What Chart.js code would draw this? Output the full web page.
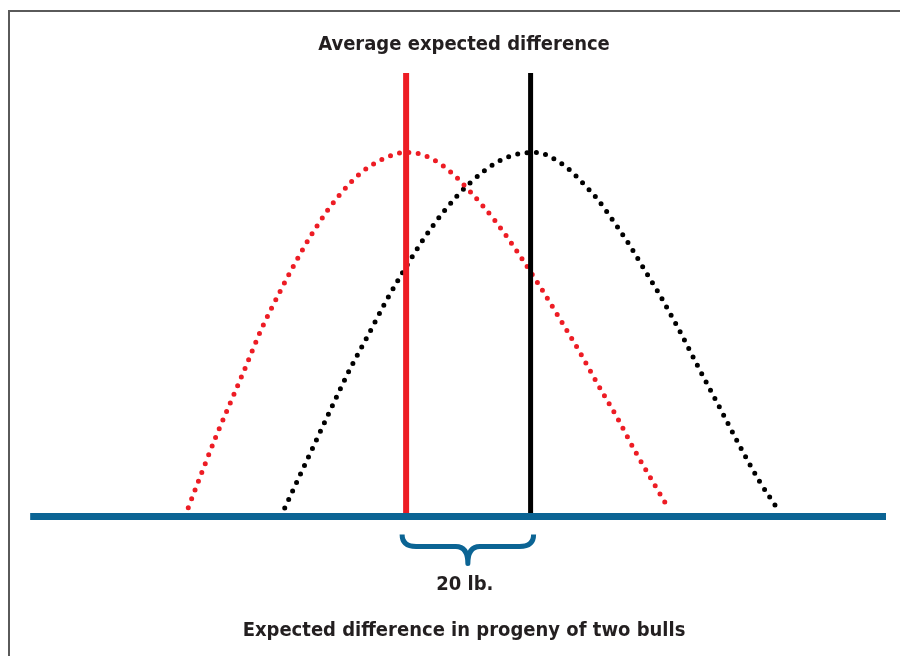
<!DOCTYPE html>
<html>
<head>
<meta charset="utf-8">
<script src="https://cdn.jsdelivr.net/npm/chart.js@4.4.1/dist/chart.umd.min.js"></script>
<style>
  html, body { margin: 0; padding: 0; background: #fff; }
  #wrap { position: relative; width: 900px; height: 656px; overflow: hidden; }
  #frame { position: absolute; left: 8px; top: 10px; width: 900px; height: 660px;
           border-left: 2px solid #5a5a5a; border-top: 2px solid #5a5a5a; box-sizing: border-box; }
  canvas { position: absolute; left: 0; top: 0; }
</style>
</head>
<body>
<div id="wrap">
  <div id="frame"></div>
  <canvas id="c" width="900" height="656"></canvas>
</div>
<script>
// ---- data (x in lb relative to first bull's average, y = relative frequency) ----
const titleText = "Average expected difference";
const axisText = "Expected difference in progeny of two bulls";
const braceLabel = "20 lb.";

const bullAMean = 0;
const bullBMean = 20;

const bullAX = [-35.0, -32.8, -30.5, -28.1, -25.7, -23.3, -20.6, -17.7, -14.6, -11.0, -6.7, -1.2, 0.4, 3.3, 6.0, 8.3, 10.4, 12.4, 14.4, 18.0, 21.4, 24.6, 27.8, 30.8, 33.9, 36.8, 39.9, 42.3];
const bullAY = [2.0, 10.0, 18.2, 26.1, 34.0, 42.1, 49.8, 57.5, 64.9, 72.0, 78.1, 81.9, 82.1, 81.2, 79.0, 76.2, 73.1, 69.9, 66.5, 59.4, 52.1, 44.8, 37.3, 29.8, 22.3, 14.7, 7.2, 1.5];

const bullBX = [-19.5, -16.9, -14.3, -11.7, -9.0, -6.1, -3.2, -0.9, 2.3, 5.9, 10.1, 15.0, 17.9, 21.0, 23.8, 26.3, 28.5, 30.6, 32.4, 34.2, 35.9, 37.5, 39.1, 40.7, 42.2, 43.7, 47.2, 50.4, 53.6, 56.7, 58.4, 60.1];
const bullBY = [1.9, 9.8, 17.6, 25.4, 33.3, 40.9, 48.6, 54.2, 61.5, 68.5, 75.0, 80.2, 81.7, 82.1, 80.6, 78.1, 75.0, 71.8, 68.4, 64.8, 61.2, 57.5, 53.8, 50.1, 46.3, 42.5, 33.0, 24.5, 15.9, 8.1, 4.4, 0.9];

const xMin = -58.5, xMax = 77.1;
const baselineX = [-60.4, 77.1];
const yMin = 0, yMax = 100;

// ---- styles ----
const RED = "#ed1c24";
const BLACK = "#000000";
const BLUE = "#0b6494";
const TEXT = "#231f20";
const FONT = "'DejaVu Sans Condensed', 'DejaVu Sans', sans-serif";

const toPts = (xs, ys) => xs.map((x, i) => ({ x, y: ys[i] }));

const bracePlugin = {
  id: "brace",
  afterDatasetsDraw(chart) {
    const { ctx, chartArea, scales } = chart;
    const xs = scales.x;
    const L = xs.getPixelForValue(bullAMean) - 4;
    const R = xs.getPixelForValue(bullBMean) + 3;
    const C = (L + R) / 2;
    const b = chartArea.bottom;
    const yTop = b + 18, yMid = b + 30, yCusp = b + 47;
    ctx.save();
    ctx.strokeStyle = BLUE;
    ctx.lineWidth = 5;
    ctx.lineCap = "butt";
    ctx.lineJoin = "round";
    ctx.beginPath();
    ctx.moveTo(L, yTop);
    ctx.quadraticCurveTo(L, yMid, L + 14, yMid);
    ctx.lineTo(C - 12, yMid);
    ctx.quadraticCurveTo(C, yMid, C, yCusp);
    ctx.quadraticCurveTo(C, yMid, C + 12, yMid);
    ctx.lineTo(R - 14, yMid);
    ctx.quadraticCurveTo(R, yMid, R, yTop);
    ctx.stroke();
    ctx.fillStyle = TEXT;
    ctx.font = "bold 20px " + FONT;
    ctx.textAlign = "center";
    ctx.textBaseline = "middle";
    ctx.fillText(braceLabel, C - 3, b + 68);
    ctx.restore();
  }
};

new Chart(document.getElementById("c"), {
  type: "line",
  data: {
    datasets: [
      { data: toPts(baselineX, [0, 0]), borderColor: BLUE, borderWidth: 7, order: 0, clip: false, borderCapStyle: "butt" },
      { data: toPts([bullAMean, bullAMean], [yMin, yMax]), borderColor: RED, borderWidth: 6, order: 1 },
      { data: toPts([bullBMean, bullBMean], [yMin, yMax]), borderColor: BLACK, borderWidth: 5, order: 1 },
      { data: toPts(bullAX, bullAY), borderColor: RED, borderWidth: 5, borderDash: [0, 9.4], borderCapStyle: "round", cubicInterpolationMode: "monotone", order: 2 },
      { data: toPts(bullBX, bullBY), borderColor: BLACK, borderWidth: 5, borderDash: [0, 9.4], borderCapStyle: "round", cubicInterpolationMode: "monotone", order: 2 }
    ]
  },
  options: {
    responsive: false,
    animation: false,
    events: [],
    layout: { padding: { left: 42, right: 14, top: 0, bottom: 0 } },
    elements: { point: { radius: 0, hitRadius: 0, hoverRadius: 0 } },
    plugins: {
      legend: { display: false },
      tooltip: { enabled: false },
      title: {
        display: true,
        text: titleText,
        color: TEXT,
        font: { family: FONT, weight: "bold", size: 20, lineHeight: 1.2 },
        padding: { top: 33, bottom: 16 }
      }
    },
    scales: {
      x: {
        type: "linear",
        min: xMin, max: xMax,
        grid: { display: false, drawTicks: false, tickLength: 0 },
        border: { display: false },
        ticks: { display: false },
        title: {
          display: true,
          text: axisText,
          color: TEXT,
          font: { family: FONT, weight: "bold", size: 20, lineHeight: 1.2 },
          padding: { top: 102.5, bottom: 13 }
        }
      },
      y: { display: false, min: yMin, max: yMax }
    }
  },
  plugins: [bracePlugin]
});
</script>
</body>
</html>
